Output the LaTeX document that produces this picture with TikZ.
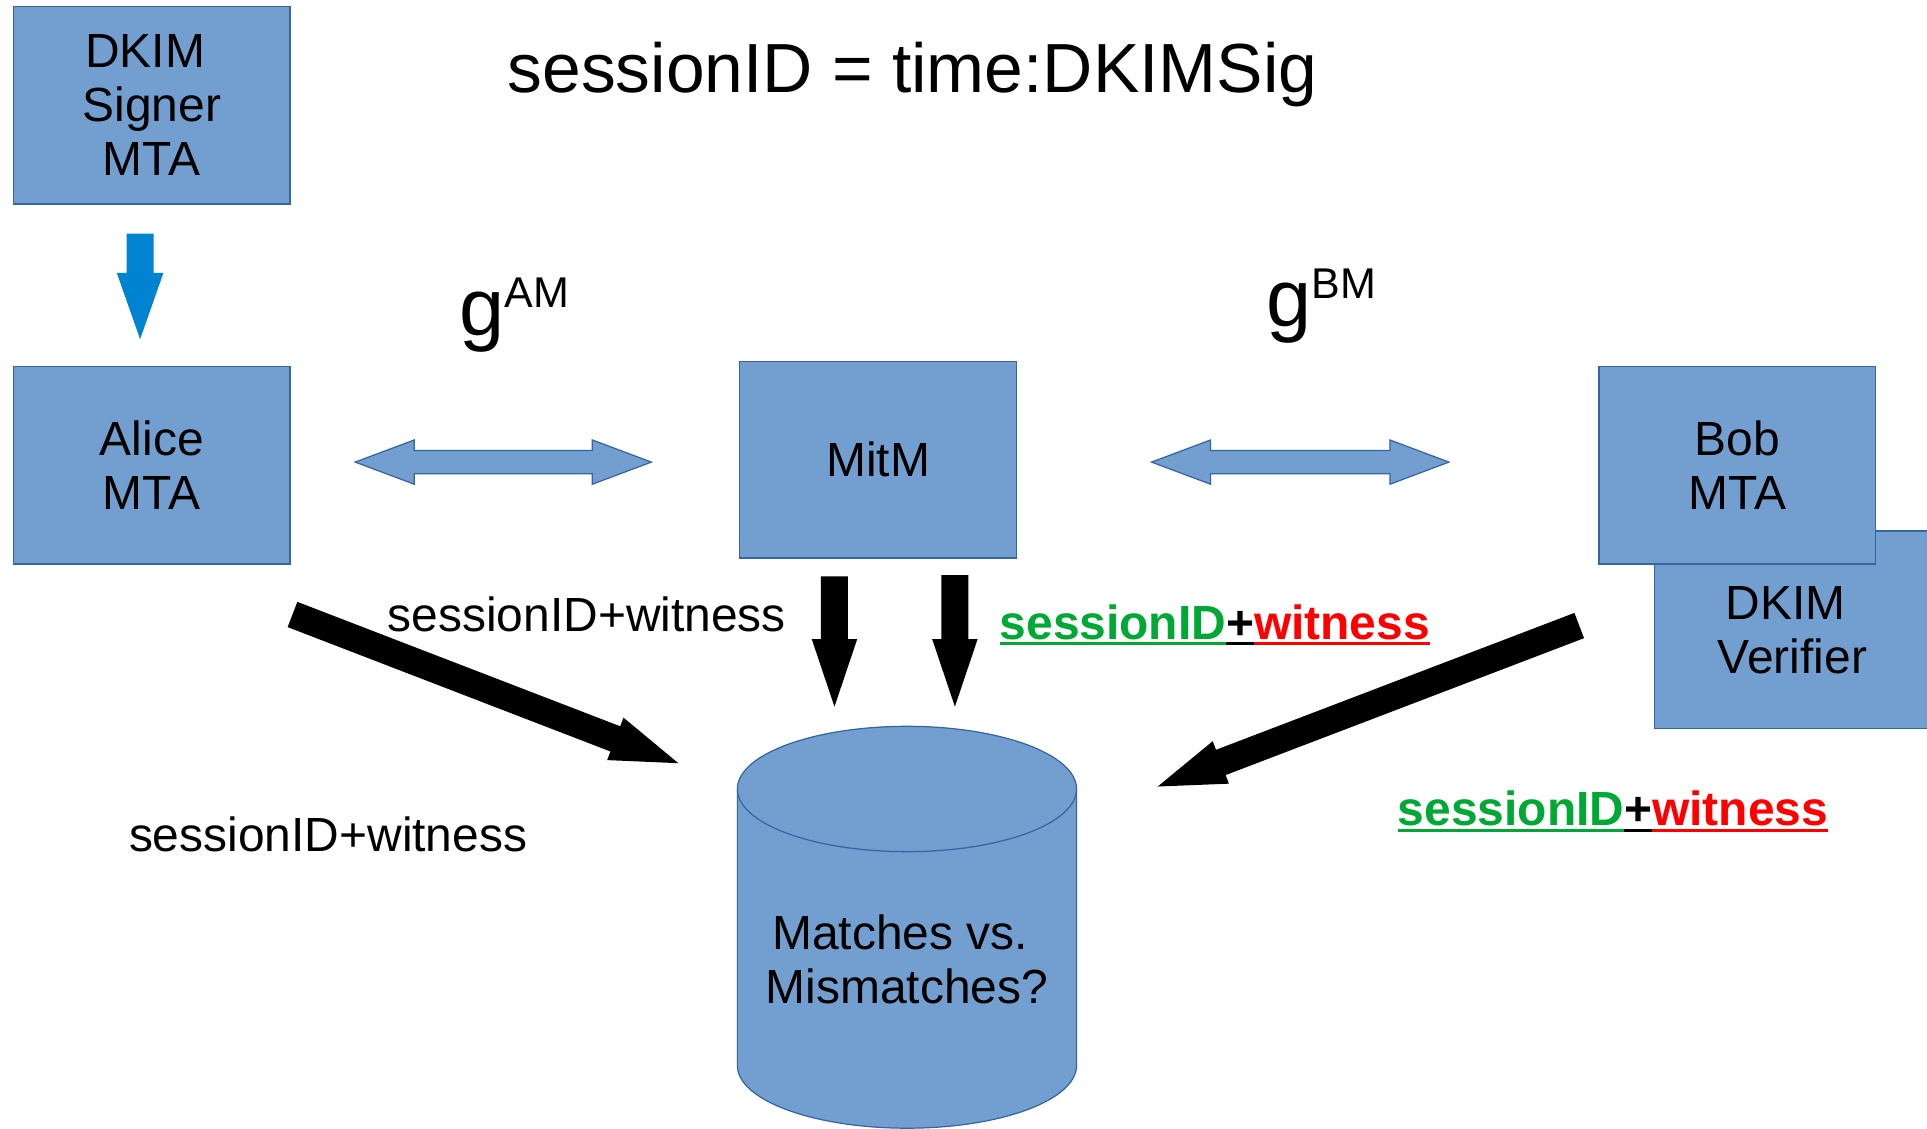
\documentclass[tikz,border=0pt]{standalone}
\usepackage{fontspec}
\setmainfont{Liberation Sans}
\usetikzlibrary{calc}
\definecolor{boxfill}{HTML}{729FCF}
\definecolor{boxline}{HTML}{3465A4}
\definecolor{sigblue}{HTML}{0084D1}
\definecolor{okgreen}{HTML}{00A933}
\definecolor{badred}{HTML}{FF0000}
% block arrow: #1 style, #2 tail, #3 tip, #4 shaft half width, #5 head half width, #6 head length
\newcommand\blkarrow[6]{%
  \coordinate (bhb) at ($(#3)!#6!(#2)$);
  \path[#1] ($(#2)!#4!90:(#3)$) -- ($(bhb)!#4!90:(#3)$) -- ($(bhb)!#5!90:(#3)$) -- (#3)
    -- ($(bhb)!#5!-90:(#3)$) -- ($(bhb)!#4!-90:(#3)$) -- ($(#2)!#4!-90:(#3)$) -- cycle;}
% double block arrow between #1 and #2
\newcommand\dblarrow[2]{%
  \coordinate (dha) at ($(#1)!48pt!(#2)$);
  \coordinate (dhb) at ($(#2)!48pt!(#1)$);
  \path[dblstyle] (#1) -- ($(dha)!18pt!90:(#2)$) -- ($(dha)!9.5pt!90:(#2)$)
    -- ($(dhb)!9.5pt!-90:(#1)$) -- ($(dhb)!18pt!-90:(#1)$) -- (#2)
    -- ($(dhb)!18pt!90:(#1)$) -- ($(dhb)!9.5pt!90:(#1)$)
    -- ($(dha)!9.5pt!-90:(#2)$) -- ($(dha)!18pt!-90:(#2)$) -- cycle;}
\newcommand\colul[2]{{\setbox0\hbox{#2}\color{#1}\rlap{\rule[-5pt]{\wd0}{2.5pt}}\box0}}
\begin{document}
\begin{tikzpicture}[x=1pt,y=-1pt,
  box/.style={draw=boxline, fill=boxfill, line width=1pt, minimum width=225pt,
    minimum height=161pt, inner sep=0pt, align=center, font=\fontsize{39}{44}\selectfont},
  dblstyle/.style={draw=boxline, fill=boxfill, line width=1pt, line join=miter},
  blackarr/.style={fill=black},
  bluearr/.style={fill=sigblue},
  lbl/.style={anchor=base, inner sep=0pt, font=\fontsize{39}{44}\selectfont},
  cyl/.style={draw=boxline, fill=boxfill, line width=1pt}]
\useasboundingbox (0,0) rectangle (1568,918);
\fill[white] (0,0) rectangle (1568,918);

% title
\node[anchor=base, inner sep=0pt, font=\fontsize{56.6}{60}\selectfont] (title) at (742.5,75) {sessionID = time:DKIMSig};

% boxes
\node[box] (signer) at (123.5,85.5) {DKIM\kern.28em\\Signer\\MTA};
\node[box] (alice) at (123.5,378.5) {Alice\\MTA};
\node[box, minimum height=160pt] (mitm) at (714.5,374) {MitM};
\node[box] (verifier) at (1458.5,512.5) {DKIM\kern.28em\\Verifier};
\node[box] (bob) at (1413.5,378.5) {Bob\\MTA};

% g labels
\node[anchor=base west, inner sep=0pt, font=\fontsize{66}{70}\selectfont] (gam) at (373.5,273) {g\raisebox{23pt}{\fontsize{35}{38}\selectfont AM}};
\node[anchor=base west, inner sep=0pt, font=\fontsize{66}{70}\selectfont] (gbm) at (1030.5,266) {g\raisebox{23pt}{\fontsize{35}{38}\selectfont BM}};

% blue arrow signer -> alice
\coordinate (sigTail) at (114,190);
\coordinate (sigTip) at (114,276);
\blkarrow{bluearr}{sigTail}{sigTip}{11pt}{19pt}{54pt}

% double arrows
\coordinate (amL) at (289,376);
\coordinate (amR) at (530,376);
\dblarrow{amL}{amR}
\coordinate (bmL) at (937,376);
\coordinate (bmR) at (1179,376);
\dblarrow{bmL}{bmR}

% cylinder
\filldraw[cyl] (600,642) -- (600,867) arc[start angle=180, end angle=360, x radius=138pt, y radius=51pt]
  -- (876,642) arc[start angle=0, end angle=180, x radius=138pt, y radius=51pt] -- cycle;
\draw[boxline, line width=1pt] (600,642) arc[start angle=180, end angle=360, x radius=138pt, y radius=51pt];
\node[align=center, inner sep=0pt, font=\fontsize{39}{44}\selectfont] (db) at (738,781) {Matches vs.\kern.28em\\Mismatches?};

% black arrows
\coordinate (aTail) at (238,500);
\coordinate (aTip) at (552,621);
\blkarrow{blackarr}{aTail}{aTip}{11pt}{18.5pt}{55pt}
\coordinate (m1Tail) at (679,469);
\coordinate (m1Tip) at (679,575);
\blkarrow{blackarr}{m1Tail}{m1Tip}{11pt}{18.5pt}{55pt}
\coordinate (m2Tail) at (777,468);
\coordinate (m2Tip) at (777,575);
\blkarrow{blackarr}{m2Tail}{m2Tip}{11pt}{18.5pt}{55pt}
\coordinate (bTail) at (1285,509);
\coordinate (bTip) at (942,640);
\blkarrow{blackarr}{bTail}{bTip}{11pt}{18.5pt}{55pt}

% labels
\node[lbl] (lblA) at (477.5,514) {sessionID+witness};
\node[lbl] (lblL) at (267,693) {sessionID+witness};
\node[lbl, font=\fontsize{39}{44}\selectfont\bfseries] (lblM) at (988.5,520) {\colul{okgreen}{sessionID}\colul{black}{+}\colul{badred}{witness}};
\node[lbl, font=\fontsize{39}{44}\selectfont\bfseries] (lblB) at (1312.5,672) {\colul{okgreen}{sessionID}\colul{black}{+}\colul{badred}{witness}};
\end{tikzpicture}
\end{document}
